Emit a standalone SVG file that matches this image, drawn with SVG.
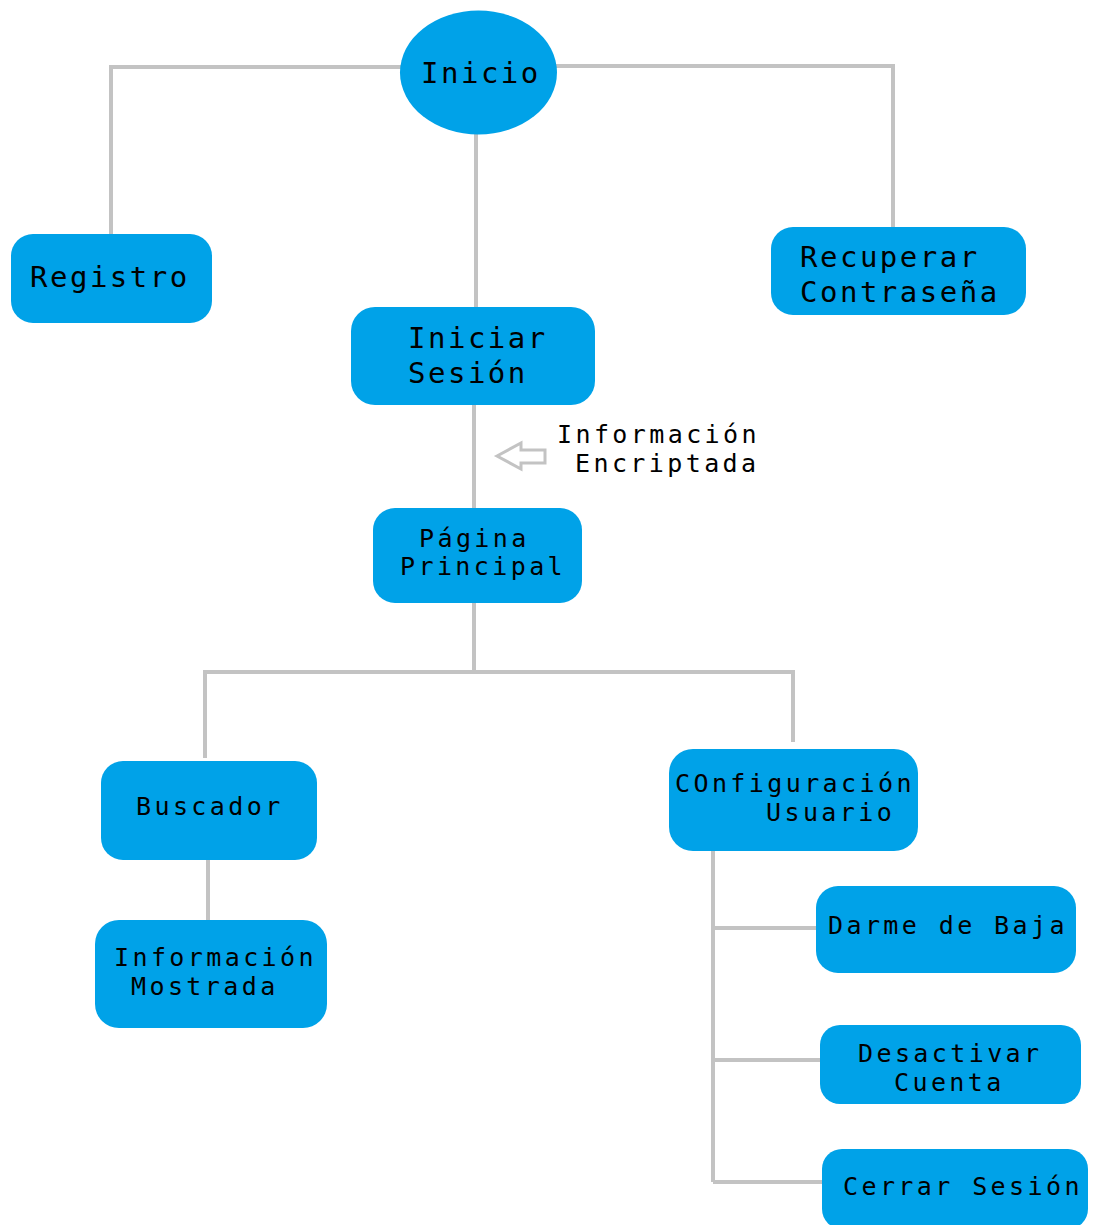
<svg xmlns="http://www.w3.org/2000/svg" width="1093" height="1225" viewBox="0 0 1093 1225">
<style>
.n{fill:#00a2e8;}
.c{fill:none;stroke:#c3c3c3;stroke-width:4;}
.L{font-family:"DejaVu Sans Mono","Liberation Mono",monospace;font-size:29px;letter-spacing:2.5px;fill:#000;}
.S{font-family:"DejaVu Sans Mono","Liberation Mono",monospace;font-size:25px;letter-spacing:3.4px;fill:#000;}
</style>
<rect width="1093" height="1225" fill="#fff"/>
<g id="connectors">
<polyline class="c" points="401,67 111,67 111,236"/>
<polyline class="c" points="556,66 893,66 893,229"/>
<line class="c" x1="476" y1="134" x2="476" y2="308"/>
<line class="c" x1="474" y1="404" x2="474" y2="509"/>
<line class="c" x1="474" y1="602" x2="474" y2="672"/>
<polyline class="c" points="205,758 205,672 793,672 793,742"/>
<line class="c" x1="208" y1="859" x2="208" y2="921"/>
<line class="c" x1="713" y1="850" x2="713" y2="1182"/>
<line class="c" x1="713" y1="928" x2="817" y2="928"/>
<line class="c" x1="713" y1="1060" x2="821" y2="1060"/>
<line class="c" x1="713" y1="1182" x2="823" y2="1182"/>
<polygon points="497,456 521,443 521,450 545,450 545,463 521,463 521,469" fill="#fff" stroke="#c3c3c3" stroke-width="3" stroke-linejoin="miter"/>
</g>
<g id="inicio">
<ellipse class="n" cx="478.5" cy="72.5" rx="78.5" ry="62"/>
<text class="L" x="421" y="83">Inicio</text>
</g>
<g id="registro">
<rect class="n" x="11" y="234" width="201" height="89" rx="22"/>
<text class="L" x="30" y="287">Registro</text>
</g>
<g id="recuperar">
<rect class="n" x="771" y="227" width="255" height="88" rx="22"/>
<text class="L" x="800" y="267">Recuperar</text>
<text class="L" x="800" y="302">Contraseña</text>
</g>
<g id="iniciar">
<rect class="n" x="351" y="307" width="244" height="98" rx="24"/>
<text class="L" x="408" y="348">Iniciar</text>
<text class="L" x="408" y="383">Sesión</text>
</g>
<g id="info-encriptada">
<text class="S" x="557" y="443">Información</text>
<text class="S" x="575" y="472">Encriptada</text>
</g>
<g id="pagina">
<rect class="n" x="373" y="508" width="209" height="95" rx="22"/>
<text class="S" x="419" y="547">Página</text>
<text class="S" x="400" y="575">Principal</text>
</g>
<g id="buscador">
<rect class="n" x="101" y="761" width="216" height="99" rx="22"/>
<text class="S" x="136" y="815">Buscador</text>
</g>
<g id="info-mostrada">
<rect class="n" x="95" y="920" width="232" height="108" rx="24"/>
<text class="S" x="114" y="966">Información</text>
<text class="S" x="131" y="995">Mostrada</text>
</g>
<g id="configuracion">
<rect class="n" x="669" y="749" width="249" height="102" rx="24"/>
<text class="S" x="675" y="792">COnfiguración</text>
<text class="S" x="766" y="821">Usuario</text>
</g>
<g id="darme-baja">
<rect class="n" x="816" y="886" width="260" height="87" rx="22"/>
<text class="S" x="828" y="934">Darme de Baja</text>
</g>
<g id="desactivar">
<rect class="n" x="820" y="1025" width="261" height="79" rx="20"/>
<text class="S" x="858" y="1062">Desactivar</text>
<text class="S" x="894" y="1091">Cuenta</text>
</g>
<g id="cerrar">
<rect class="n" x="822" y="1149" width="266" height="80" rx="20"/>
<text class="S" x="843" y="1195">Cerrar Sesión</text>
</g>
</svg>
